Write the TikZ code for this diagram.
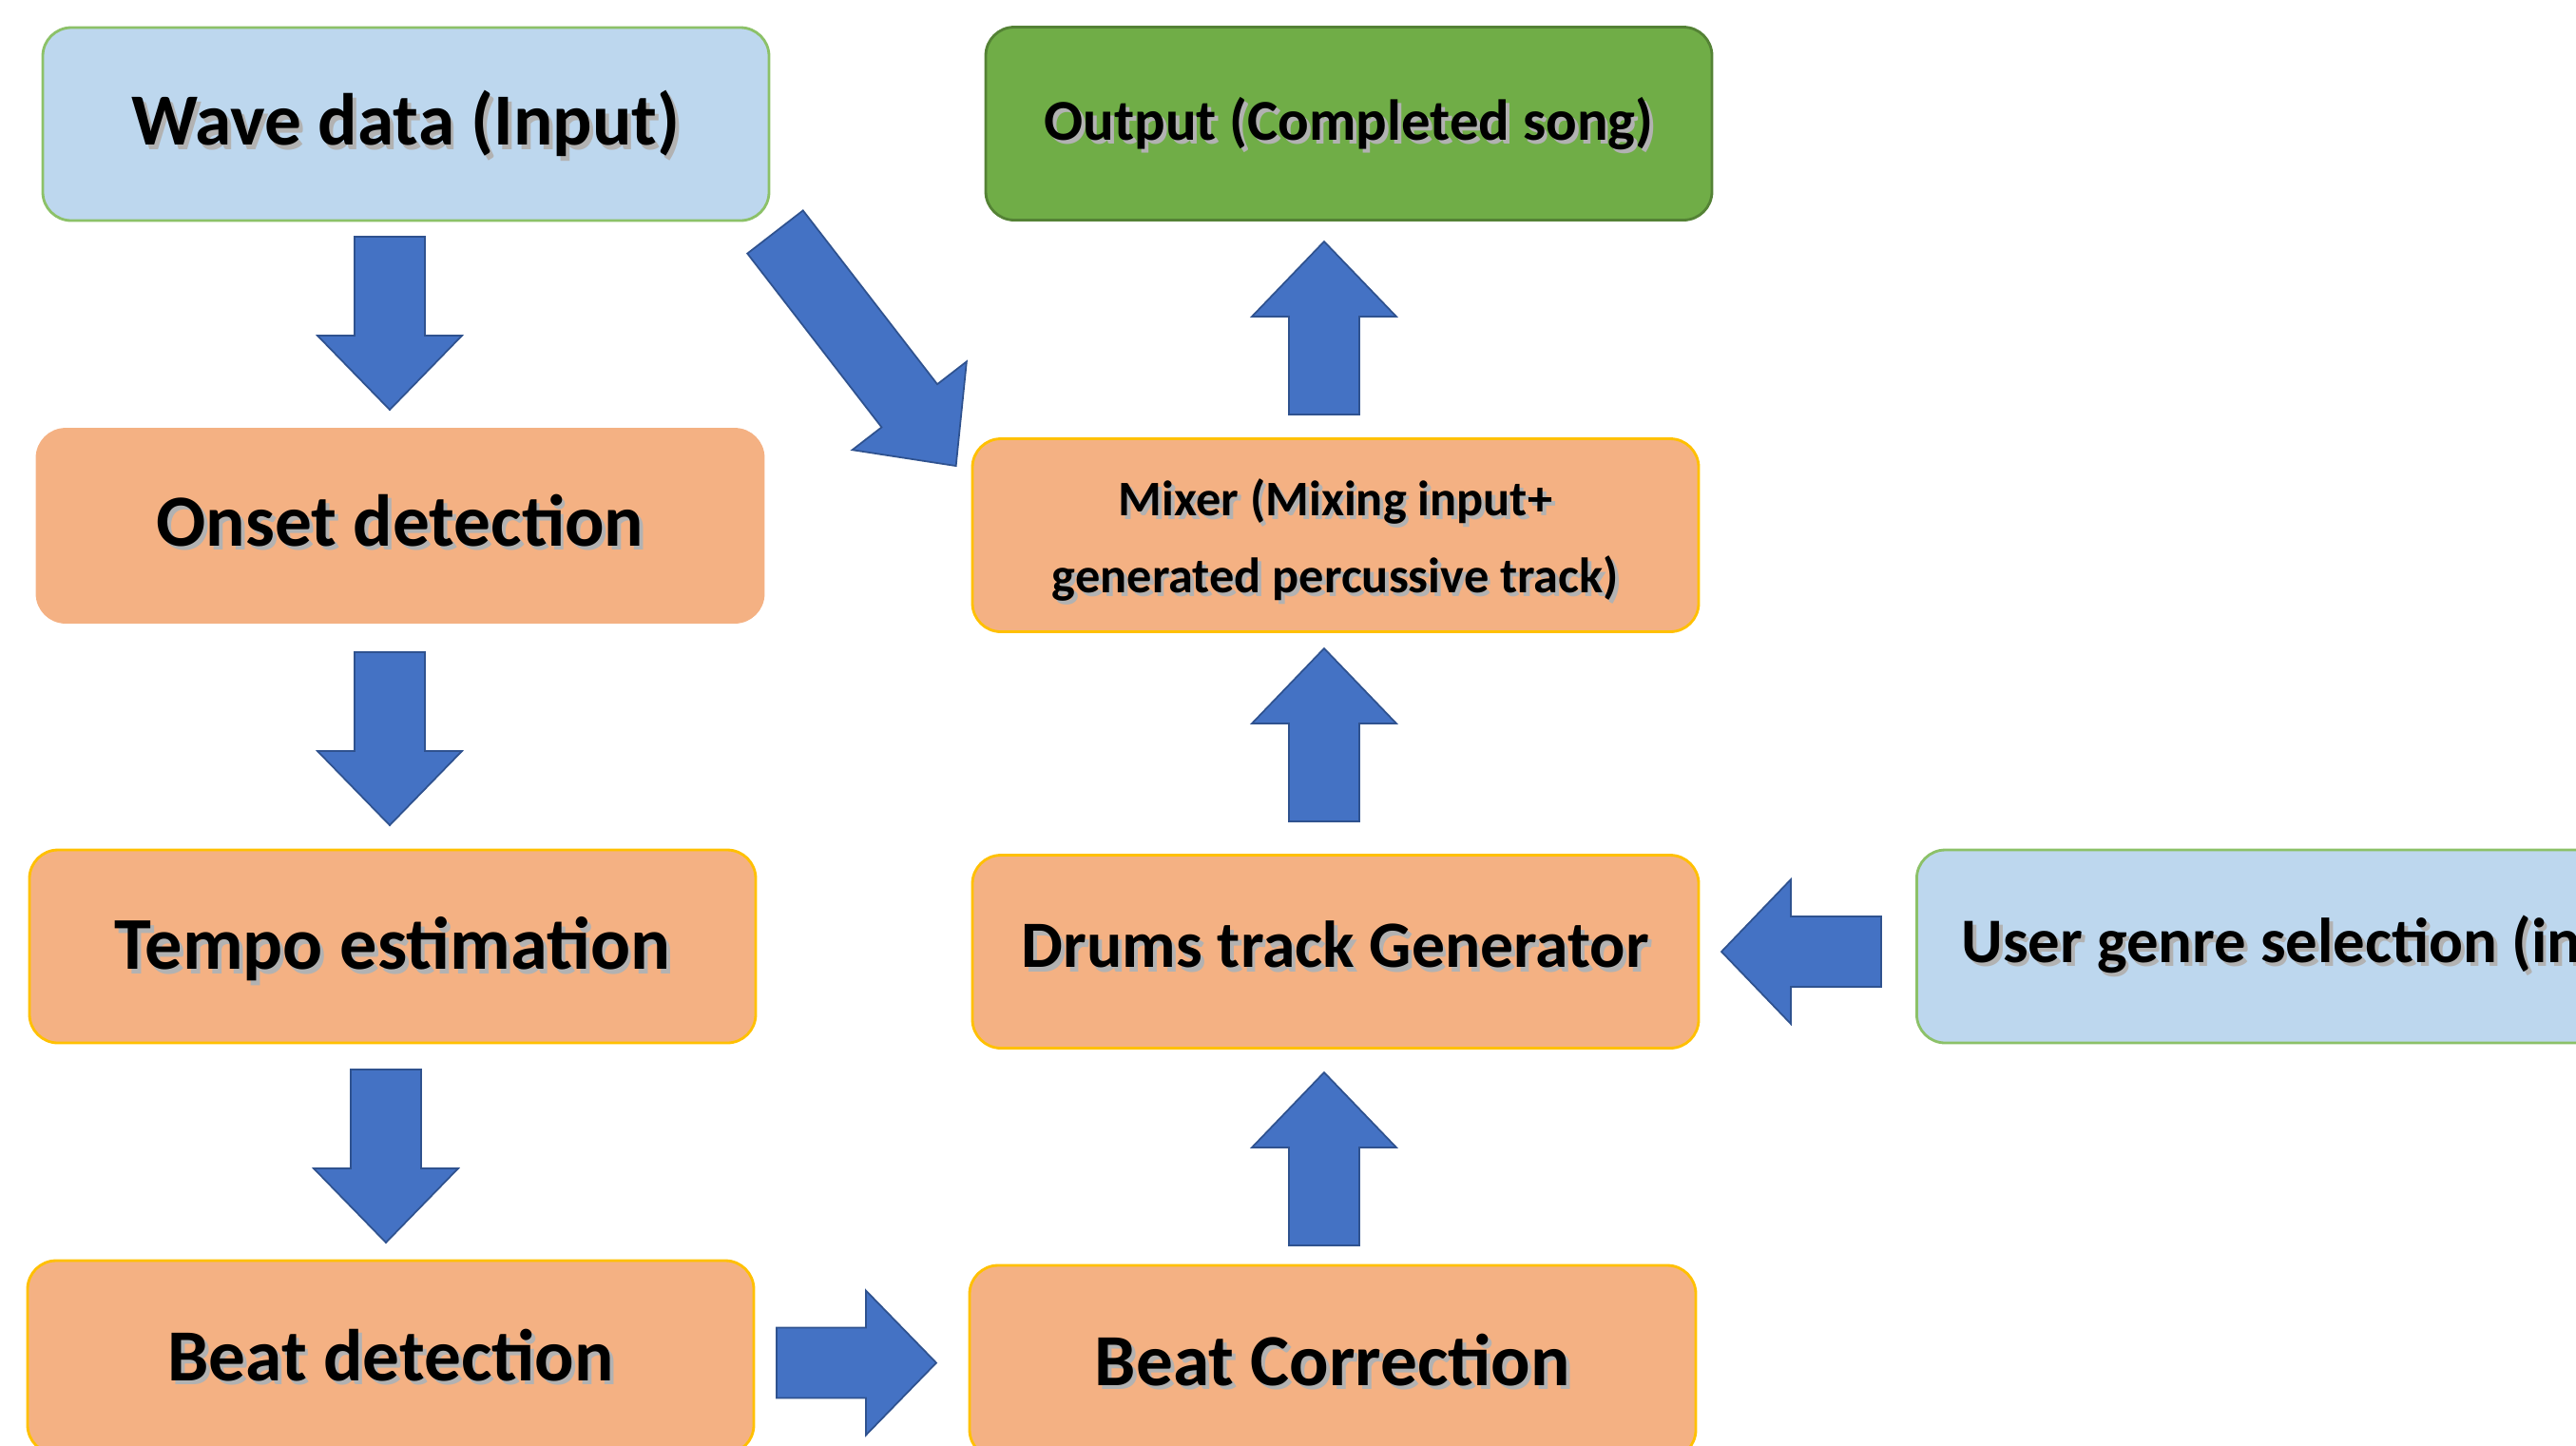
\documentclass[tikz,border=0pt]{standalone}
\usepackage{fontspec}
\setmainfont{Carlito}
\usetikzlibrary{calc}

\definecolor{infill}{HTML}{BDD7EE}
\definecolor{inline}{HTML}{8CC168}
\definecolor{outfill}{HTML}{70AD47}
\definecolor{outline}{HTML}{548235}
\definecolor{stagefill}{HTML}{F4B183}
\definecolor{stageline}{HTML}{FFC000}
\definecolor{arrowfill}{HTML}{4472C4}
\definecolor{arrowline}{HTML}{2F528F}

% text with a soft drop shadow
\newcommand{\shtext}[1]{\leavevmode\rlap{\kern1.1pt\raisebox{-1.3pt}{\color{black!30}#1}}#1}
% same, set a little lower in its line
\newcommand{\lowtext}[2][2pt]{\raisebox{-#1}[\height][\depth]{\shtext{#2}}}

\tikzset{
  stage/.style={draw=stageline, fill=stagefill, rounded corners=0.3cm,
    minimum width=7.64cm, minimum height=2.03cm, line width=0.8pt,
    font=\bfseries\fontsize{22}{26}\selectfont, align=center},
  inbox/.style={stage, draw=inline, fill=infill},
  outbox/.style={stage, draw=outline, fill=outfill},
  blockarrow/.style={fill=arrowfill, draw=arrowline, line width=0.5pt, line join=miter}
}

% block arrow: start point, direction, shaft length, head length
\newcommand{\blockarrow}[4]{%
  \draw[blockarrow, shift={#1}, rotate=#2]
    (0,-0.37) -- (#3,-0.37) -- (#3,-0.76) -- ({#3+#4},0)
    -- (#3,0.76) -- (#3,0.37) -- (0,0.37) -- cycle;}

\begin{document}
\begin{tikzpicture}[line cap=round, line join=round]
  \useasboundingbox (0,0) rectangle (27.1,-15.2);
  \clip (0,0) rectangle (27.1,-15.2);

  % left column
  \node[inbox] (wave) at (4.27,-1.305) {\lowtext[0.6pt]{Wave data (Input)}};
  \node[stage, draw=stagefill, text depth=0.12cm] (onset) at (4.21,-5.53) {\shtext{Onset detection}};
  \node[stage, font=\bfseries\fontsize{22.3}{26}\selectfont] (tempo) at (4.13,-9.955) {\lowtext[1.5pt]{Tempo estimation}};
  \node[stage] (beatdet) at (4.11,-14.275) {\shtext{Beat detection}};

  % right column
  \node[outbox, font=\bfseries\fontsize{17.3}{22}\selectfont] (output) at (14.19,-1.30) {\lowtext[0.6pt]{Output (Completed song)}};
  \node[stage, font=\bfseries\fontsize{14.9}{23}\selectfont] (mixer) at (14.05,-5.63)
    {\lowtext{Mixer (Mixing input+}\\\lowtext{generated percussive track)}};
  \node[stage, font=\bfseries\fontsize{19.8}{23}\selectfont, text depth=0.15cm] (drums) at (14.05,-10.01) {\shtext{Drums track Generator}};
  \node[stage] (beatcorr) at (14.02,-14.325) {\shtext{Beat Correction}};

  % genre input, runs off the page
  \node[inbox, anchor=west, inner xsep=0.47cm, minimum width=0pt,
    font=\bfseries\fontsize{19}{23}\selectfont] (genre) at (20.15,-9.955) {\shtext{User genre selection (input)}};

  % arrows
  \blockarrow{(4.10,-2.49)}{-90}{1.04}{0.78}
  \blockarrow{(4.10,-6.86)}{-90}{1.04}{0.78}
  \blockarrow{(4.06,-11.25)}{-90}{1.04}{0.78}
  \blockarrow{(8.17,-14.335)}{0}{0.94}{0.74}
  \blockarrow{(13.93,-13.10)}{90}{1.03}{0.79}
  \blockarrow{(13.93,-8.64)}{90}{1.03}{0.79}
  \blockarrow{(13.93,-4.36)}{90}{1.03}{0.79}
  \blockarrow{(19.79,-10.01)}{180}{0.95}{0.73}
  \blockarrow{(8.155,-2.44)}{-52.3}{2.31}{0.80}
\end{tikzpicture}
\end{document}
